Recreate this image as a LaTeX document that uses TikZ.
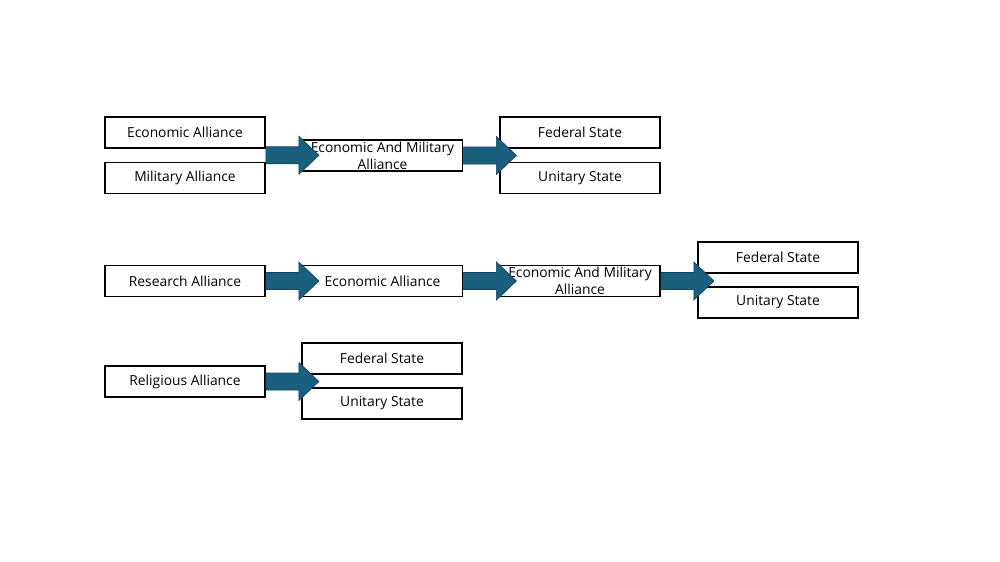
\documentclass[tikz,border=0pt]{standalone}
\usepackage{fontspec}
\setmainfont{Open Sans}
\usetikzlibrary{calc}
\definecolor{arrowfill}{HTML}{1A5F7E}
\definecolor{arrowline}{HTML}{12445C}
\newcommand\blockarrow[1]{%
  \filldraw[barrow] (#1) ++(0,-8.5) -- ++(33,0) -- ++(0,-10.5) -- ++(20,19)
    -- ++(-20,19) -- ++(0,-10.5) -- ++(-33,0) -- cycle;}
\begin{document}
\begin{tikzpicture}[x=0.03cm,y=-0.03cm,
  box/.style={draw=black, line width=1.5pt, fill=white, minimum width=160*0.03cm,
    minimum height=31*0.03cm, inner sep=0pt, align=center,
    font=\fontsize{11.8pt}{14.5pt}\selectfont},
  barrow/.style={fill=arrowfill, draw=arrowline, line width=0.6pt, line join=miter}]
\useasboundingbox[fill=white] (0,0) rectangle (1000,562);
% row 1
\node[box] (ea1) at (185,132.5) {Economic Alliance};
\node[box] (ma1) at (185,178) {Military Alliance};
\node[box] (ema1) at (382.5,155.5) {Economic And Military\\Alliance};
\node[box] (fs1) at (580,132.5) {Federal State};
\node[box] (us1) at (580,178) {Unitary State};
% row 2
\node[box] (ra2) at (185,281) {Research Alliance};
\node[box] (ea2) at (382.5,281) {Economic Alliance};
\node[box] (ema2) at (580,281) {Economic And Military\\Alliance};
\node[box] (fs2) at (778,257.5) {Federal State};
\node[box] (us2) at (778,302.5) {Unitary State};
% row 3
\node[box] (rel3) at (185,381.5) {Religious Alliance};
\node[box] (fs3) at (382,358.5) {Federal State};
\node[box] (us3) at (382,403.5) {Unitary State};
% arrows
\coordinate (s1) at ($(ea1.east)!0.5!(ma1.east)$);
\blockarrow{s1}
\blockarrow{ema1.east}
\blockarrow{ra2.east}
\blockarrow{ea2.east}
\blockarrow{ema2.east}
\blockarrow{rel3.east}
\end{tikzpicture}
\end{document}
